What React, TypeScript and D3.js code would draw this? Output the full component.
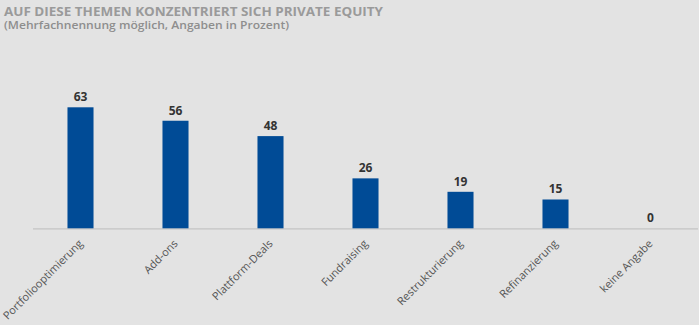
import React, { useEffect, useRef } from "react";
import * as d3 from "d3";

const categories = ["Portfoliooptimierung", "Add-ons", "Plattform-Deals", "Fundraising", "Restrukturierung", "Refinanzierung", "keine Angabe"];
const values = [63, 56, 48, 26, 19, 15, 0];
const titleText = "AUF DIESE THEMEN KONZENTRIERT SICH PRIVATE EQUITY";
const subtitleText = "(Mehrfachnennung möglich, Angaben in Prozent)";

const W = 699;
const H = 325;

export default function App() {
  const ref = useRef<SVGSVGElement>(null);
  useEffect(() => {
    const svg = d3.select(ref.current);
    svg.selectAll("*").remove();
    const font = "'Open Sans', 'Noto Sans', sans-serif";
    svg.append("rect").attr("width", W).attr("height", H).attr("fill", "#e3e3e3");

    svg.append("text").attr("x", 4).attr("y", 15.5).text(titleText)
      .attr("font-family", font).attr("font-weight", 700).attr("font-size", 13)
      .attr("textLength", 379).attr("lengthAdjust", "spacingAndGlyphs").attr("fill", "#9a9a9a");
    svg.append("text").attr("x", 4).attr("y", 29).text(subtitleText)
      .attr("font-family", font).attr("font-weight", 600).attr("font-size", 11)
      .attr("textLength", 285).attr("lengthAdjust", "spacingAndGlyphs").attr("fill", "#8e8e8e");

    const x = d3.scaleBand().domain(categories).range([33, 698]).paddingInner(0.726).paddingOuter(0.363);
    const y = d3.scaleLinear().domain([0, 63]).range([228.3, 107.3]);

    svg.append("line").attr("x1", 33).attr("x2", 698).attr("y1", y(0) + 0.5).attr("y2", y(0) + 0.5)
      .attr("stroke", "#c4c4c4").attr("stroke-width", 1.2);

    svg.selectAll("rect.bar").data(values).enter().append("rect").attr("class", "bar")
      .attr("x", (_, i) => x(categories[i])!)
      .attr("width", x.bandwidth())
      .attr("y", (d) => y(d))
      .attr("height", (d) => y(0) - y(d))
      .attr("fill", "#004b96");

    svg.selectAll("text.val").data(values).enter().append("text").attr("class", "val")
      .attr("x", (_, i) => x(categories[i])! + x.bandwidth() / 2)
      .attr("y", (d) => y(d) - 6)
      .attr("text-anchor", "middle")
      .attr("font-family", font).attr("font-weight", 700).attr("font-size", 12).attr("fill", "#333")
      .text((d) => String(d));

    svg.selectAll("text.cat").data(categories).enter().append("text").attr("class", "cat")
      .attr("transform", (d) => `translate(${x(d)! + x.bandwidth() / 2 + 3},${y(0) + 16}) rotate(-45)`)
      .attr("text-anchor", "end")
      .attr("font-family", font).attr("font-size", 11).attr("fill", "#555")
      .text((d) => d);
  }, []);
  return (
    <svg ref={ref} width={W} height={H} style={{ display: "block", position: "absolute", left: 0, top: 0 }} />
  );
}
